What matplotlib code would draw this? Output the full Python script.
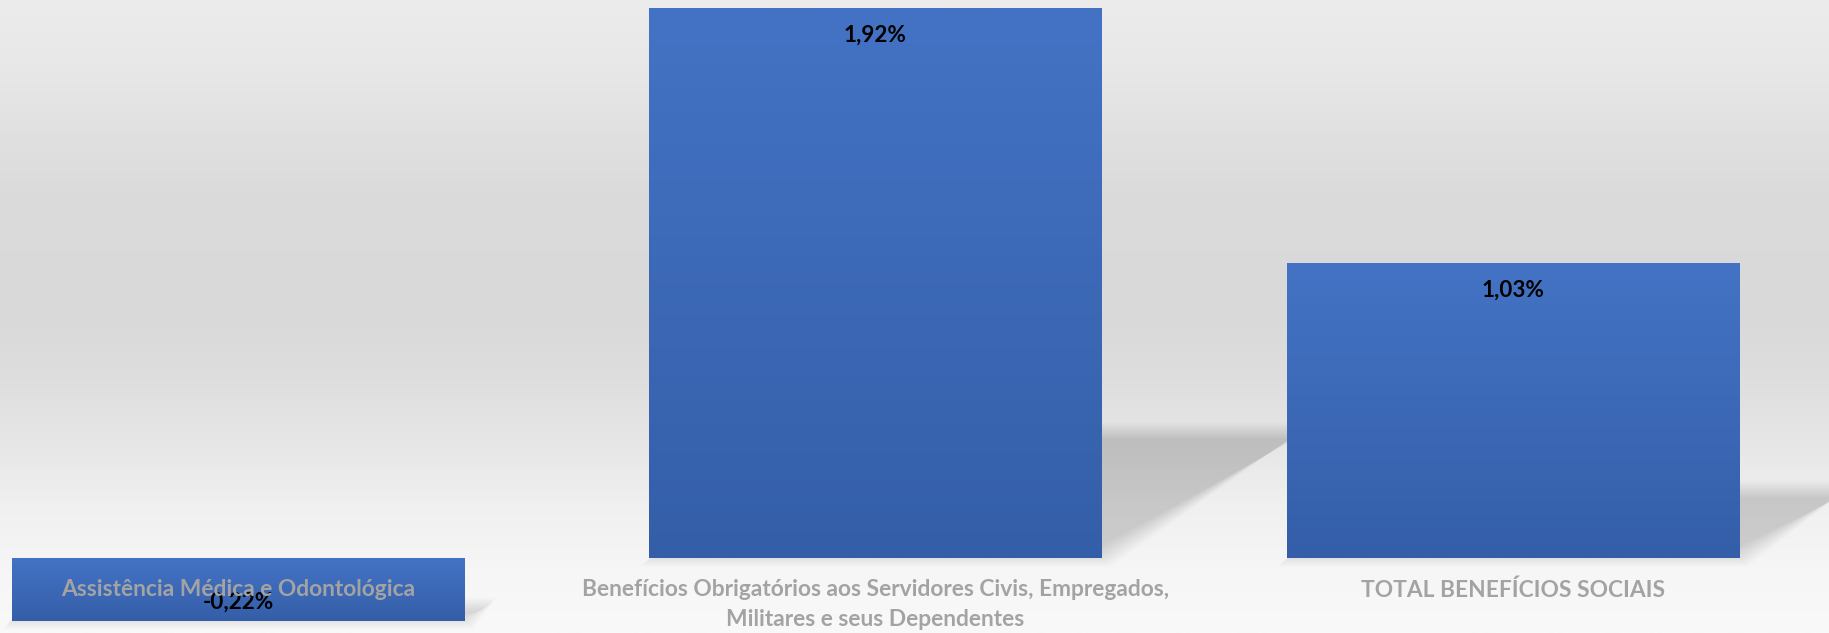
import numpy as np
import matplotlib
matplotlib.use("Agg")
import matplotlib.pyplot as plt
from matplotlib.patches import Polygon
from matplotlib.colors import LinearSegmentedColormap

categories = [
    "Assistência Médica e Odontológica",
    "Benefícios Obrigatórios aos Servidores Civis, Empregados,\nMilitares e seus Dependentes",
    "TOTAL BENEFÍCIOS SOCIAIS",
]
values = [-0.22, 1.92, 1.03]
value_labels = ["-0,22%", "1,92%", "1,03%"]

plt.rcParams['font.family'] = ['Lato', 'DejaVu Sans']

W, H, DPI = 1829, 633, 100
fig = plt.figure(figsize=(W / DPI, H / DPI), dpi=DPI)

# background gradient
bg = fig.add_axes([0, 0, 1, 1], zorder=0)
bg.set_axis_off()
stops = [(0.0, 236), (0.1, 232), (0.3, 219), (0.5, 217), (0.6, 222),
         (0.72, 232), (0.8, 240), (0.9, 246), (1.0, 249)]
yy = np.linspace(0, 1, 400)
gray = np.interp(yy, [s[0] for s in stops], [s[1] for s in stops]) / 255.0
img = np.repeat(gray[:, None], 2, axis=1)
bg.imshow(np.dstack([img, img, img]), extent=[0, 1, 0, 1], aspect='auto', origin='upper')
bg.set_xlim(0, 1)
bg.set_ylim(0, 1)

ax = fig.add_axes([0, 0, 1, 1], zorder=1)
ax.patch.set_alpha(0)
ax.set_axis_off()
XL = (-0.3733, 2.496)
YL = (-0.2634, 1.9476)

x = np.arange(len(categories))
bar_w = 0.71
top_c = np.array([68, 115, 197]) / 255.0
bot_c = np.array([52, 94, 168]) / 255.0
bars = ax.bar(x, values, width=bar_w, color=top_c, zorder=3, linewidth=0)

# px per data unit
px_x = W / (XL[1] - XL[0])
px_y = H / (YL[1] - YL[0])

# perspective shadows (soft)
for b, v in zip(bars, values):
    x0 = b.get_x()
    x1 = x0 + b.get_width()
    base = min(0.0, v)
    hs = 0.23 * abs(v)
    shift = 1.6 * hs * px_y / px_x
    n = 20
    for i in range(n):
        e = 9.0 - i * (17.0 / (n - 1))  # px expansion from +9 to -8
        ex = e / px_x
        ey = e / px_y
        pts = [(x0 - ex, base - ey), (x1 + ex, base - ey),
               (x1 + shift + ex, base + hs + ey), (x0 + shift - ex, base + hs + ey)]
        ax.add_patch(Polygon(pts, closed=True, facecolor='black', alpha=0.0098,
                             linewidth=0, zorder=2))

# gradient on bars
grad = np.linspace(0, 1, 256)[:, None]
cmap = LinearSegmentedColormap.from_list('barg', [top_c, bot_c])
for b in bars:
    x0 = b.get_x()
    x1 = x0 + b.get_width()
    y0 = b.get_y()
    y1 = y0 + b.get_height()
    ytop, ybot = max(y0, y1), min(y0, y1)
    ax.imshow(grad, cmap=cmap, extent=[x0, x1, ybot, ytop], aspect='auto',
              origin='upper', zorder=4)
ax.set_xlim(*XL)
ax.set_ylim(*YL)

# data labels
for b, v, lab in zip(bars, values, value_labels):
    cx = b.get_x() + b.get_width() / 2
    off = -19.8 if v >= 0 else 13.5
    ax.annotate(lab, xy=(cx, v), xytext=(0, off), textcoords='offset points',
                ha='center', va='center', fontsize=16.2, fontweight='bold',
                color='black', zorder=5)

# category labels
for xi, cat in zip(x, categories):
    for j, line in enumerate(cat.split('\n')):
        ax.annotate(line, xy=(xi, 0), xytext=(0, -23.3 - j * 21.6),
                    textcoords='offset points', ha='center', va='center',
                    fontsize=16.4, fontweight='bold', color='#a3a3a3', zorder=6)

fig.savefig('out.png', dpi=DPI)
